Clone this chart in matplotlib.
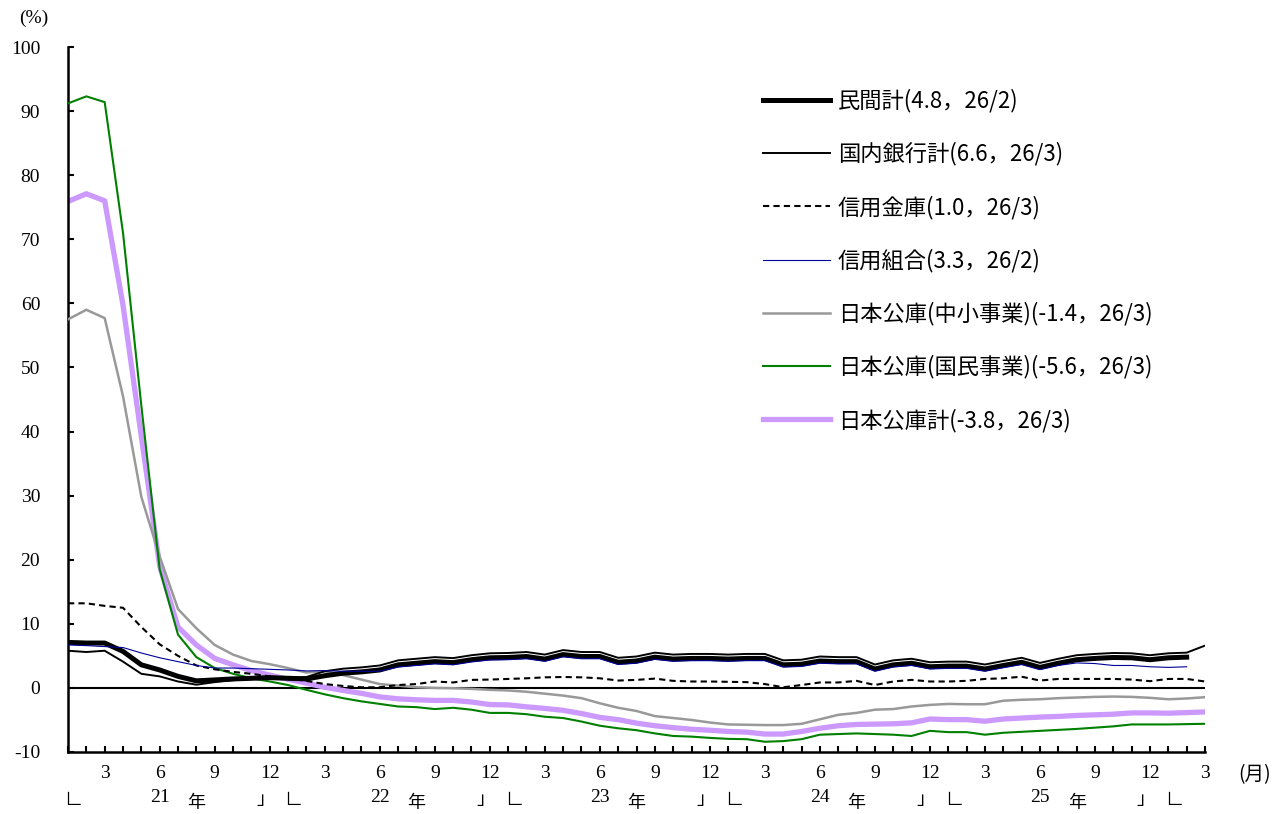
import matplotlib
matplotlib.use("Agg")
import matplotlib.pyplot as plt
import numpy as np

# 2021/1 .. 2026/3, monthly (63 points)
months = [1 + (i % 12) for i in range(63)]

minkan = [7.1, 7.0, 7.0, 5.7, 3.6, 2.8, 1.8, 1.1, 1.25, 1.4,
          1.5, 1.6, 1.5, 1.4, 1.9, 2.3, 2.5, 2.8, 3.6, 3.85,
          4.1, 3.95, 4.4, 4.7, 4.75, 4.9, 4.5, 5.2, 4.9, 4.9,
          4.0, 4.2, 4.8, 4.5, 4.6, 4.6, 4.5, 4.6, 4.6, 3.6,
          3.7, 4.2, 4.1, 4.1, 2.95, 3.6, 3.85, 3.3, 3.4, 3.4,
          2.95, 3.5, 4.0, 3.2, 3.85, 4.4, 4.6, 4.75, 4.7, 4.4,
          4.7, 4.8]
ginko = [5.8, 5.6, 5.8, 4.1, 2.2, 1.8, 1.0, 0.5, 0.9, 1.2,
         1.4, 1.6, 1.6, 1.7, 2.6, 3.0, 3.2, 3.5, 4.3, 4.55,
         4.8, 4.65, 5.1, 5.4, 5.45, 5.6, 5.2, 5.9, 5.6, 5.6,
         4.7, 4.9, 5.5, 5.2, 5.3, 5.3, 5.2, 5.3, 5.3, 4.3,
         4.4, 4.9, 4.8, 4.8, 3.65, 4.3, 4.55, 4.0, 4.1, 4.1,
         3.65, 4.2, 4.7, 3.9, 4.55, 5.1, 5.3, 5.45, 5.4, 5.1,
         5.4, 5.5, 6.6]
shinkin = [13.2, 13.2, 12.8, 12.5, 9.5, 6.8, 5.0, 3.5, 2.9, 2.5,
           2.2, 1.8, 1.5, 1.1, 0.6, 0.3, 0.1, 0.1, 0.45, 0.6,
           1.0, 0.85, 1.25, 1.3, 1.4, 1.5, 1.65, 1.7, 1.65, 1.5,
           1.15, 1.25, 1.45, 1.1, 1.0, 1.0, 0.95, 0.9, 0.6, 0.1,
           0.45, 0.85, 0.85, 1.1, 0.45, 1.0, 1.25, 1.0, 1.0, 1.1,
           1.4, 1.5, 1.75, 1.15, 1.4, 1.4, 1.4, 1.4, 1.3, 1.05,
           1.4, 1.4, 1.0]
shinkumi = [6.7, 6.6, 6.45, 6.3, 5.45, 4.7, 4.1, 3.5, 3.1, 3.1,
            3.0, 2.9, 2.8, 2.65, 2.7, 2.6, 2.6, 2.6, 3.25, 3.5,
            3.75, 3.6, 4.05, 4.35, 4.4, 4.55, 4.15, 4.85, 4.55, 4.55,
            3.65, 3.85, 4.45, 4.15, 4.25, 4.25, 4.15, 4.25, 4.25, 3.25,
            3.35, 3.85, 3.75, 3.75, 2.6, 3.25, 3.5, 2.95, 3.05, 3.05,
            2.6, 3.15, 3.65, 2.85, 3.5, 3.9, 3.8, 3.5, 3.5, 3.3,
            3.2, 3.3]
chusho = [57.5, 59.0, 57.7, 45.5, 29.8, 20.5, 12.3, 9.3, 6.7, 5.2,
          4.2, 3.7, 3.1, 2.4, 2.6, 2.0, 1.3, 0.6, 0.35, 0.1,
          0.0, -0.05, -0.15, -0.3, -0.4, -0.6, -0.9, -1.2, -1.6, -2.4,
          -3.1, -3.6, -4.4, -4.7, -5.0, -5.4, -5.7, -5.75, -5.8, -5.8,
          -5.6, -4.9, -4.2, -3.9, -3.4, -3.3, -2.9, -2.65, -2.5, -2.55,
          -2.55, -2.0, -1.85, -1.77, -1.6, -1.5, -1.4, -1.35, -1.4, -1.55,
          -1.77, -1.65, -1.45]
kokumin = [91.2, 92.3, 91.4, 71.0, 44.0, 18.5, 8.3, 4.8, 3.1, 2.2,
           1.5, 1.0, 0.45, -0.3, -1.0, -1.6, -2.1, -2.5, -2.9, -3.0,
           -3.3, -3.1, -3.4, -3.9, -3.9, -4.1, -4.5, -4.7, -5.25, -5.9,
           -6.3, -6.6, -7.1, -7.5, -7.6, -7.8, -7.95, -8.0, -8.4, -8.3,
           -8.0, -7.3, -7.2, -7.1, -7.2, -7.3, -7.5, -6.7, -6.9, -6.9,
           -7.3, -7.0, -6.85, -6.7, -6.55, -6.4, -6.2, -6.0, -5.7, -5.7,
           -5.7, -5.65, -5.6]
koko_total = [75.9, 77.1, 76.0, 59.7, 39.2, 19.0, 9.5, 6.7, 4.6, 3.6,
              2.7, 2.0, 1.35, 0.75, 0.1, -0.4, -0.85, -1.4, -1.7, -1.85,
              -1.95, -1.95, -2.2, -2.6, -2.65, -2.95, -3.2, -3.5, -4.0, -4.6,
              -4.95, -5.5, -5.9, -6.2, -6.45, -6.6, -6.8, -6.9, -7.2, -7.2,
              -6.8, -6.3, -5.9, -5.7, -5.65, -5.6, -5.45, -4.85, -4.95, -4.95,
              -5.2, -4.85, -4.7, -4.55, -4.45, -4.3, -4.2, -4.1, -3.9, -3.9,
              -3.95, -3.85, -3.75]

labels = ["民間計(4.8，26/2)", "国内銀行計(6.6，26/3)", "信用金庫(1.0，26/3)",
          "信用組合(3.3，26/2)", "日本公庫(中小事業)(-1.4，26/3)",
          "日本公庫(国民事業)(-5.6，26/3)", "日本公庫計(-3.8，26/3)"]
years = ["21", "22", "23", "24", "25"]

num_font = "Liberation Serif"
jp_font = ["Noto Sans CJK JP", "DejaVu Sans"]

W, H = 1283, 814
fig = plt.figure(figsize=(W / 100, H / 100), dpi=100)
ax = fig.add_axes([68 / W, 62 / H, (1205 - 68) / W, 705 / H])

x = np.arange(len(months))

ax.axhline(0, color="black", lw=1.5, zorder=1)
l7, = ax.plot(x[:len(koko_total)], koko_total, color="#cc99ff", lw=3.8, zorder=2)
l5, = ax.plot(x[:len(chusho)], chusho, color="#999999", lw=1.8, zorder=3)
l6, = ax.plot(x[:len(kokumin)], kokumin, color="#008000", lw=1.5, zorder=4)
l3, = ax.plot(x[:len(shinkin)], shinkin, color="black", lw=1.5,
              linestyle=(0, (3, 2)), zorder=5)
l1, = ax.plot(x[:len(minkan)], minkan, color="black", lw=3.6, zorder=6)
l2, = ax.plot(x[:len(ginko)], ginko, color="black", lw=1.4, zorder=7)
l4, = ax.plot(x[:len(shinkumi)], shinkumi, color="#000099", lw=0.8, zorder=8)

ax.set_xlim(0, len(months) - 1)
ax.set_ylim(-10, 100)
for s in ["top", "right"]:
    ax.spines[s].set_visible(False)
for s in ["left", "bottom"]:
    ax.spines[s].set_linewidth(1.8)

ax.set_yticks(np.arange(-10, 101, 10))
ax.set_yticklabels([str(v) for v in range(-10, 101, 10)],
                   fontfamily=num_font, fontsize=14)
ax.set_xticks(x)
ax.set_xticklabels([str(m) if m % 3 == 0 else "" for m in months],
                   fontfamily=num_font, fontsize=14)
ax.tick_params(axis="y", direction="in", length=4.5, width=1.5, pad=20)
ax.tick_params(axis="x", direction="in", length=4.5, width=1.5, pad=9)

# year row under the month labels
tr = ax.get_xaxis_transform()
for k, yy in enumerate(years):
    b = 12 * k
    ax.text(b + 0.3, -0.068, "∟", transform=tr, ha="center", va="center",
            fontfamily=jp_font, fontsize=13)
    ax.text(b + 5, -0.064, yy, transform=tr, ha="center", va="center",
            fontfamily=num_font, fontsize=14)
    ax.text(b + 7, -0.073, "年", transform=tr, ha="center", va="center",
            fontfamily=jp_font, fontsize=13)
    ax.text(b + 10.75, -0.068, "」", transform=tr, ha="center", va="center",
            fontfamily=jp_font, fontsize=13)
ax.text(60.3, -0.068, "∟", transform=tr, ha="center", va="center",
        fontfamily=jp_font, fontsize=13)

fig.text(1255 / W, 1 - 775 / H, "(月)", ha="center", va="center",
         fontfamily=jp_font, fontsize=14)
fig.text(34 / W, 1 - 18 / H, "(%)", ha="center", va="center",
         fontfamily=num_font, fontsize=14)

handles = [l1, l2, l3, l4, l5, l6, l7]
leg = ax.legend(handles, labels, loc="upper left",
                bbox_to_anchor=(763 / W, 1 - 89 / H),
                bbox_transform=fig.transFigure, frameon=False,
                prop={"family": jp_font, "size": 16},
                handlelength=3.0, handletextpad=0.36, labelspacing=1.33,
                borderpad=0, borderaxespad=0)

fig.savefig("out.png", dpi=100)
